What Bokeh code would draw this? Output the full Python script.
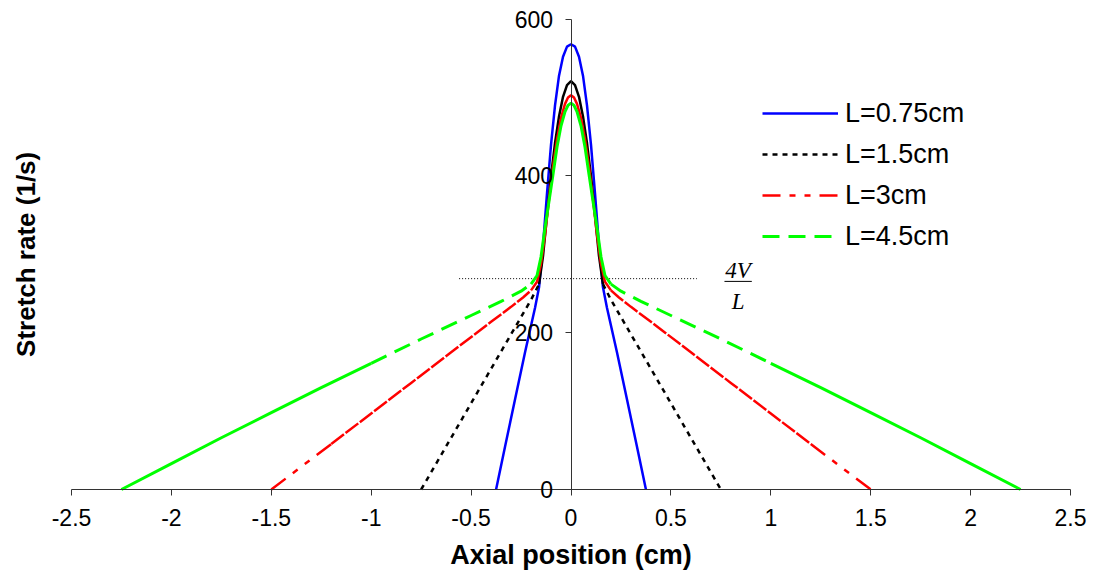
import numpy as np
from bokeh.plotting import figure
from bokeh.models import FixedTicker, Legend, LegendItem, Label
from bokeh.embed import file_html
from bokeh.resources import INLINE

# Stretch rate profiles along the axis for four separation distances L
blue_x = [-0.375, -0.33, -0.28, -0.23, -0.18, -0.16, -0.14, -0.12, -0.10, -0.08, -0.06, -0.04, -0.02,
          0.0, 0.02, 0.04, 0.06, 0.08, 0.10, 0.12, 0.14, 0.16, 0.18, 0.23, 0.28, 0.33, 0.375]
blue_y = [0, 55, 115, 175, 232, 258, 312, 378, 440, 490, 528, 552, 565,
          568, 565, 552, 528, 490, 440, 378, 312, 258, 232, 175, 115, 55, 0]

black_x = [-0.75, -0.65, -0.55, -0.45, -0.35, -0.25, -0.20, -0.16, -0.14, -0.12, -0.10, -0.08, -0.06, -0.04, -0.02,
           0.0, 0.02, 0.04, 0.06, 0.08, 0.10, 0.12, 0.14, 0.16, 0.20, 0.25, 0.35, 0.45, 0.55, 0.65, 0.75]
black_y = [0, 44, 88, 132, 176, 220, 242, 262, 298, 350, 400, 442, 476, 501, 516,
           521, 516, 501, 476, 442, 400, 350, 298, 262, 242, 220, 176, 132, 88, 44, 0]

red_x = [-1.5, -1.35, -1.2, -1.0, -0.8, -0.6, -0.4, -0.3, -0.24, -0.2, -0.17, -0.15, -0.13, -0.11, -0.09, -0.07,
         -0.05, -0.03, -0.015, 0.0, 0.015, 0.03, 0.05, 0.07, 0.09, 0.11, 0.13, 0.15, 0.17, 0.2, 0.24, 0.3, 0.4,
         0.6, 0.8, 1.0, 1.2, 1.35, 1.5]
red_y = [0, 29, 58, 97, 136, 175, 214, 233, 245, 254, 265, 288, 325, 370, 412, 447,
         474, 492, 500, 503, 500, 492, 474, 447, 412, 370, 325, 288, 265, 254, 245, 233, 214,
         175, 136, 97, 58, 29, 0]

green_x = [-2.25, -2.0, -1.75, -1.5, -1.25, -1.0, -0.75, -0.5, -0.35, -0.25, -0.2, -0.17, -0.15, -0.13, -0.11,
           -0.09, -0.07, -0.05, -0.03, -0.015, 0.0, 0.015, 0.03, 0.05, 0.07, 0.09, 0.11, 0.13, 0.15, 0.17, 0.2,
           0.25, 0.35, 0.5, 0.75, 1.0, 1.25, 1.5, 1.75, 2.0, 2.25]
green_y = [0, 33, 66, 98, 130, 161, 192, 222, 240, 253, 262, 273, 297, 334, 368,
           402, 437, 464, 482, 490, 493, 490, 482, 464, 437, 402, 368, 334, 297, 273, 262,
           253, 240, 222, 192, 161, 130, 98, 66, 33, 0]

# reference level 4V/L and the span of its dotted guide
ref_level = 269
ref_x = [-0.56, 0.63]

x_ticks = [-2.5, -2.0, -1.5, -1.0, -0.5, 0.0, 0.5, 1.0, 1.5, 2.0, 2.5]
x_tick_labels = ["-2.5", "-2", "-1.5", "-1", "-0.5", "0", "0.5", "1", "1.5", "2", "2.5"]
y_ticks = [0, 200, 400, 600]

FONT = "Liberation Sans"
AXIS_COLOR = "#333333"
TICK_FONT_SIZE = "23px"


def part(xs, ys, lo, hi):
    """Keep the points whose |x| lies within [lo, hi]; the rest become gaps."""
    xa = np.asarray(xs, dtype=float)
    ya = np.asarray(ys, dtype=float)
    keep = (np.abs(xa) >= lo - 1e-9) & (np.abs(xa) <= hi + 1e-9)
    return xa, np.where(keep, ya, np.nan)


# Both axes cross inside the plotting area, so the frame fills the whole canvas
# and the ranges run past the axis bounds to hold tick labels and titles.
p = figure(width=1096, height=577, x_range=(-2.8554, 2.6301), y_range=(-112.27, 623.86),
           output_backend="svg", toolbar_location=None,
           min_border_left=0, min_border_right=0, min_border_top=0, min_border_bottom=0)
p.outline_line_color = None
p.grid.visible = False
p.background_fill_color = "white"

# x axis crossing at y = 0
xa = p.xaxis[0]
xa.fixed_location = 0
xa.bounds = (-2.5, 2.5)
xa.ticker = FixedTicker(ticks=x_ticks)
xa.major_label_overrides = {t: s for t, s in zip(x_ticks, x_tick_labels)}
xa.minor_tick_line_color = None
xa.major_tick_in = 0
xa.major_tick_out = 6
xa.axis_line_color = AXIS_COLOR
xa.major_tick_line_color = AXIS_COLOR
xa.major_label_text_font = FONT
xa.major_label_text_font_size = TICK_FONT_SIZE
xa.major_label_text_color = "black"
xa.major_label_standoff = 14
xa.axis_label = "Axial position (cm)"
xa.axis_label_text_font = FONT
xa.axis_label_text_font_style = "bold"
xa.axis_label_text_font_size = "27px"
xa.axis_label_text_color = "black"
xa.axis_label_standoff = 10

# y axis crossing at x = 0
ya = p.yaxis[0]
ya.fixed_location = 0
ya.bounds = (0, 600)
ya.ticker = FixedTicker(ticks=y_ticks)
ya.minor_tick_line_color = None
ya.major_tick_in = 0
ya.major_tick_out = 6
ya.axis_line_color = AXIS_COLOR
ya.major_tick_line_color = AXIS_COLOR
ya.major_label_text_font = FONT
ya.major_label_text_font_size = TICK_FONT_SIZE
ya.major_label_text_color = "black"
ya.major_label_standoff = 12

# y title at the far left, rotated
p.add_layout(Label(x=-2.73, y=300, text="Stretch rate (1/s)", angle=90, angle_units="deg",
                   text_align="center", text_baseline="middle", text_font=FONT,
                   text_font_style="bold", text_font_size="26px", text_color="black"))

# dotted 4V/L guide
p.line(ref_x, [ref_level, ref_level], line_color="black", line_width=1, line_dash="1 2")

# curves: dense cores are solid, wings carry the series dash
blue_r = p.line(blue_x, blue_y, line_color="#0000FF", line_width=2.5)

bx, by = part(black_x, black_y, 0.16, 9)
black_r = p.line(bx, by, line_color="black", line_width=2.5, line_dash="5 5")
bx, by = part(black_x, black_y, 0, 0.16)
p.line(bx, by, line_color="black", line_width=2.5)

rx, ry = part(red_x, red_y, 1.2, 9)
red_r = p.line(rx, ry, line_color="#FF0000", line_width=2.5, line_dash="18 9 6 9 6 9")
rx, ry = part(red_x, red_y, 0.2, 1.2)
p.line(rx, ry, line_color="#FF0000", line_width=2.5, line_dash="16 2")
rx, ry = part(red_x, red_y, 0, 0.2)
p.line(rx, ry, line_color="#FF0000", line_width=2.5)

gx, gy = part(green_x, green_y, 0.2, 1.0)
green_r = p.line(gx, gy, line_color="#00FF00", line_width=3, line_dash="17 9")
gx, gy = part(green_x, green_y, 1.0, 9)
p.line(gx, gy, line_color="#00FF00", line_width=3)
gx, gy = part(green_x, green_y, 0, 0.2)
p.line(gx, gy, line_color="#00FF00", line_width=3)

# 4V/L fraction next to the guide
frac_x = 0.836
p.add_layout(Label(x=frac_x, y=279, text="4V", text_font="Liberation Serif", text_font_style="italic",
                   text_font_size="23px", text_align="center", text_baseline="alphabetic", text_color="black"))
p.add_layout(Label(x=frac_x, y=240, text="L", text_font="Liberation Serif", text_font_style="italic",
                   text_font_size="23px", text_align="center", text_baseline="alphabetic", text_color="black"))
p.segment(x0=[0.768], y0=[265.5], x1=[0.905], y1=[265.5], line_color="black", line_width=1)

legend = Legend(items=[
    LegendItem(label="L=0.75cm", renderers=[blue_r]),
    LegendItem(label="L=1.5cm", renderers=[black_r]),
    LegendItem(label="L=3cm", renderers=[red_r]),
    LegendItem(label="L=4.5cm", renderers=[green_r]),
], location=(762, 321))
legend.glyph_width = 76
legend.glyph_height = 40
legend.label_height = 40
legend.spacing = 1
legend.padding = 0
legend.margin = 0
legend.label_standoff = 7
legend.border_line_color = None
legend.background_fill_alpha = 0
legend.label_text_font = FONT
legend.label_text_font_size = "27px"
legend.label_text_color = "black"
p.add_layout(legend, "center")

open("out.html", "w").write(file_html(p, INLINE))
